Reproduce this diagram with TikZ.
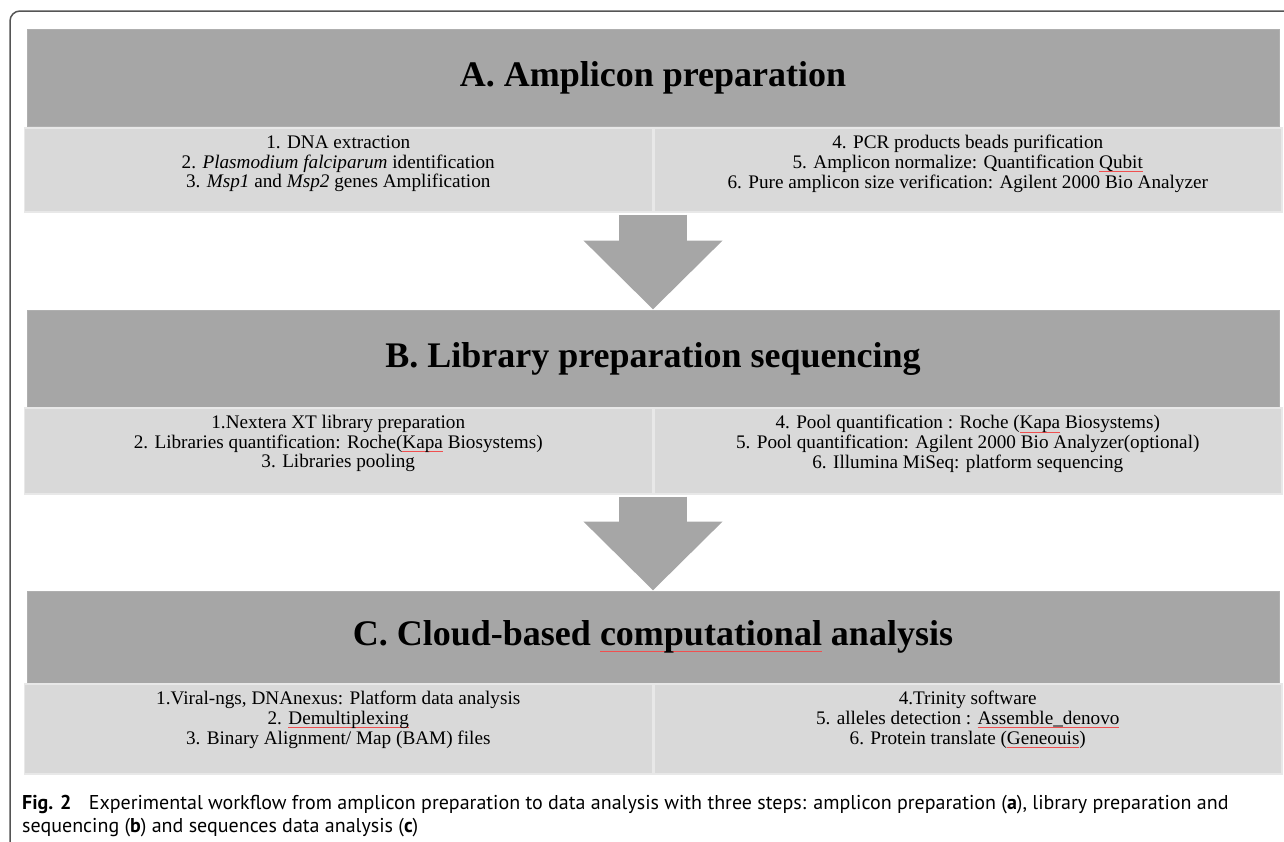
\documentclass[tikz,border=0pt]{standalone}
\usepackage{fontspec}
\setmainfont{Liberation Serif}
\newfontfamily\capfont{PT Sans}
\usetikzlibrary{positioning,arrows.meta}

\definecolor{headgray}{HTML}{A6A6A6}
\definecolor{cellgray}{HTML}{D9D9D9}
\definecolor{celledge}{HTML}{E8E8E8}
\definecolor{framegray}{HTML}{555555}
\definecolor{spellred}{HTML}{F05050}

% Red spell-check underline.
\newcommand{\spellmark}[1]{\setbox0=\hbox{#1}\rlap{\textcolor{spellred}{\rule[-0.17em]{\wd0}{0.6pt}}}\box0\relax}

\tikzset{
	headbox/.style={fill=headgray, draw=headgray!90!white, line width=1pt, minimum width=1252pt, minimum height=97pt, inner sep=0pt, font=\fontsize{36}{40}\selectfont\bfseries},
	cellbox/.style={fill=cellgray, draw=celledge, line width=1.5pt, minimum width=628pt, minimum height=86pt, inner sep=0pt},
	celltext/.style={align=center, inner sep=0pt, font=\fontsize{19.2}{19.6}\selectfont},
	flowarrow/.style={draw=headgray, line width=68pt, -{Triangle[width=135pt, length=69pt]}, shorten <=2pt},
	captext/.style={align=left, inner sep=0pt, anchor=north west, font=\fontsize{20}{23}\selectfont\capfont}
}

\begin{document}
\begin{tikzpicture}[x=1pt, y=-1pt]
	\useasboundingbox (0,0) rectangle (1284,841);
	\clip (0,0) rectangle (1284,841);

	% Draw frame.
	\draw[framegray, line width=1.5pt, rounded corners=10pt] (1300,11) -- (10,11) -- (10,851) -- (40,851);

	% Draw step A.
	\node[headbox] (headA) at (653,78) {A. Amplicon preparation};
	\node[cellbox, minimum height=84pt, anchor=north east] (panAl) at (653,127) {};
	\node[cellbox, minimum height=84pt, right=0pt of panAl] (panAr) {};
	\node[celltext] (txtAl) at ([yshift=6pt]panAl.center) {1. DNA extraction\\2. \textit{Plasmodium falciparum} identification\\3. \textit{Msp1} and \textit{Msp2} genes Amplification};
	\node[celltext] (txtAr) at ([yshift=6pt]panAr.center) {4. PCR products beads purification\\5. Amplicon normalize: Quantification \spellmark{Qubit}\\6. Pure amplicon size verification: Agilent 2000 Bio Analyzer};

	% Draw step B.
	\node[headbox] (headB) at (653,358.5) {B. Library preparation sequencing};
	\node[cellbox, anchor=north east] (panBl) at (653,407) {};
	\node[cellbox, right=0pt of panBl] (panBr) {};
	\node[celltext] (txtBl) at ([yshift=7pt]panBl.center) {1.Nextera XT library preparation\\2. Libraries quantification: Roche(\spellmark{Kapa} Biosystems)\\3. Libraries pooling};
	\node[celltext] (txtBr) at ([yshift=7pt]panBr.center) {4. Pool quantification : Roche (\spellmark{Kapa} Biosystems)\\5. Pool quantification: Agilent 2000 Bio Analyzer(optional)\\6. Illumina MiSeq: platform sequencing};

	% Draw step C.
	\node[headbox, minimum height=92pt] (headC) at (653,637) {C. Cloud-based \spellmark{computational} analysis};
	\node[cellbox, minimum height=90pt, anchor=north east] (panCl) at (653,683) {};
	\node[cellbox, minimum height=90pt, right=0pt of panCl] (panCr) {};
	\node[celltext] (txtCl) at ([yshift=9pt]panCl.center) {1.Viral-ngs, DNAnexus: Platform data analysis\\2. \spellmark{Demultiplexing}\\3. Binary Alignment/ Map (BAM) files};
	\node[celltext] (txtCr) at ([yshift=9pt]panCr.center) {4.Trinity software\\5. alleles detection : \spellmark{Assemble\_denovo}\\6. Protein translate (\spellmark{Geneouis})};

	% Connect the steps.
	\draw[flowarrow] (panAl.south east) -- (headB.north);
	\draw[flowarrow] (panBl.south east) -- (headC.north);

	% Caption.
	\node[captext] (caption) at (22,795) {\textbf{Fig. 2}\hspace{0.6em} Experimental workflow from amplicon preparation to data analysis with three steps: amplicon preparation (\textbf{a}), library preparation and\\sequencing (\textbf{b}) and sequences data analysis (\textbf{c})};
\end{tikzpicture}
\end{document}
